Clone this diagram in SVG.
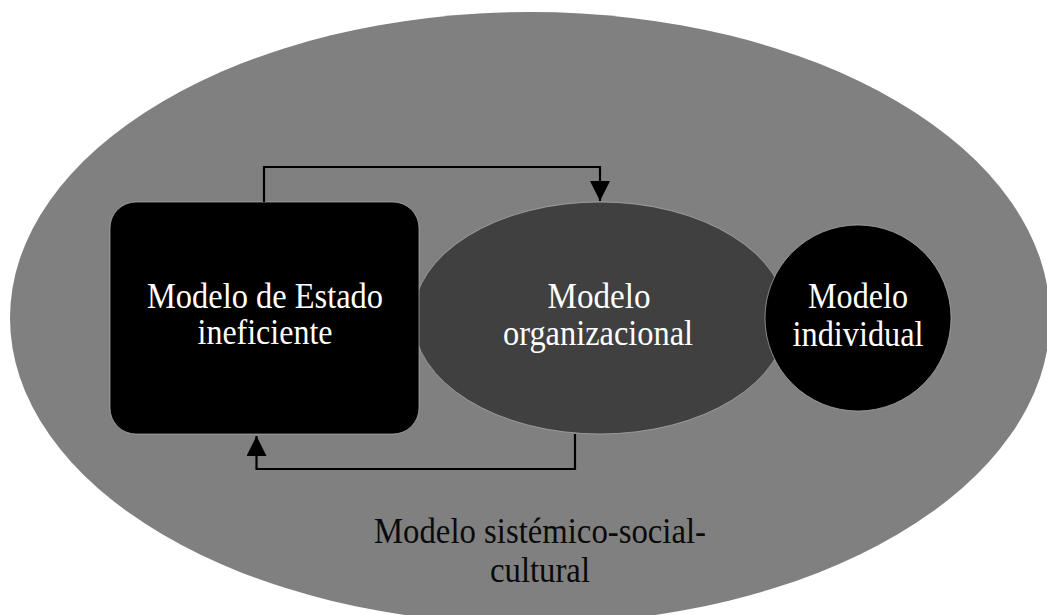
<svg xmlns="http://www.w3.org/2000/svg" width="1047" height="615" viewBox="0 0 1047 615">
  <defs>
    <style>
      .lbl { font-family: "Liberation Serif", "Times New Roman", serif; font-size: 35px; text-anchor: middle; }
      .w { fill: #ffffff; }
      .k { fill: #0a0a0a; }
      .conn { fill: none; stroke: #000000; stroke-width: 2.2; }
      .edge { stroke: #b0b0b0; stroke-width: 1; stroke-opacity: 0.7; }
    </style>
    <marker id="arrow" viewBox="0 0 20 20" refX="20" refY="10" markerWidth="20" markerHeight="20" markerUnits="userSpaceOnUse" orient="auto">
      <path d="M0,0 L20,10 L0,20 Z" fill="#000000"/>
    </marker>
  </defs>
  <rect width="1047" height="615" fill="#ffffff"/>
  <g id="sistemico">
    <ellipse cx="530" cy="318" rx="520" ry="306" fill="#808080"/>
    <text class="lbl k" x="540" y="543" textLength="332" lengthAdjust="spacingAndGlyphs">Modelo sistémico-social-</text>
    <text class="lbl k" x="540" y="582" textLength="100" lengthAdjust="spacingAndGlyphs">cultural</text>
  </g>
  <g id="organizacional">
    <ellipse class="edge" cx="600" cy="318" rx="187" ry="116" fill="#404040"/>
    <text class="lbl w" x="599" y="308" textLength="103" lengthAdjust="spacingAndGlyphs">Modelo</text>
    <text class="lbl w" x="598" y="345" textLength="190" lengthAdjust="spacingAndGlyphs">organizacional</text>
  </g>
  <g id="estado">
    <rect class="edge" x="110" y="202" width="309" height="232" rx="26" ry="26" fill="#000000"/>
    <text class="lbl w" x="265" y="308" textLength="236" lengthAdjust="spacingAndGlyphs">Modelo de Estado</text>
    <text class="lbl w" x="265" y="344" textLength="135" lengthAdjust="spacingAndGlyphs">ineficiente</text>
  </g>
  <g id="individual">
    <circle class="edge" cx="858" cy="318" r="93" fill="#000000"/>
    <text class="lbl w" x="858" y="308" textLength="100" lengthAdjust="spacingAndGlyphs">Modelo</text>
    <text class="lbl w" x="858" y="346" textLength="131" lengthAdjust="spacingAndGlyphs">individual</text>
  </g>
  <g id="connectors">
    <path class="conn" d="M264,202 V167 H600 V201" marker-end="url(#arrow)"/>
    <path class="conn" d="M575,434 V469 H256.5 V436" marker-end="url(#arrow)"/>
  </g>
</svg>
